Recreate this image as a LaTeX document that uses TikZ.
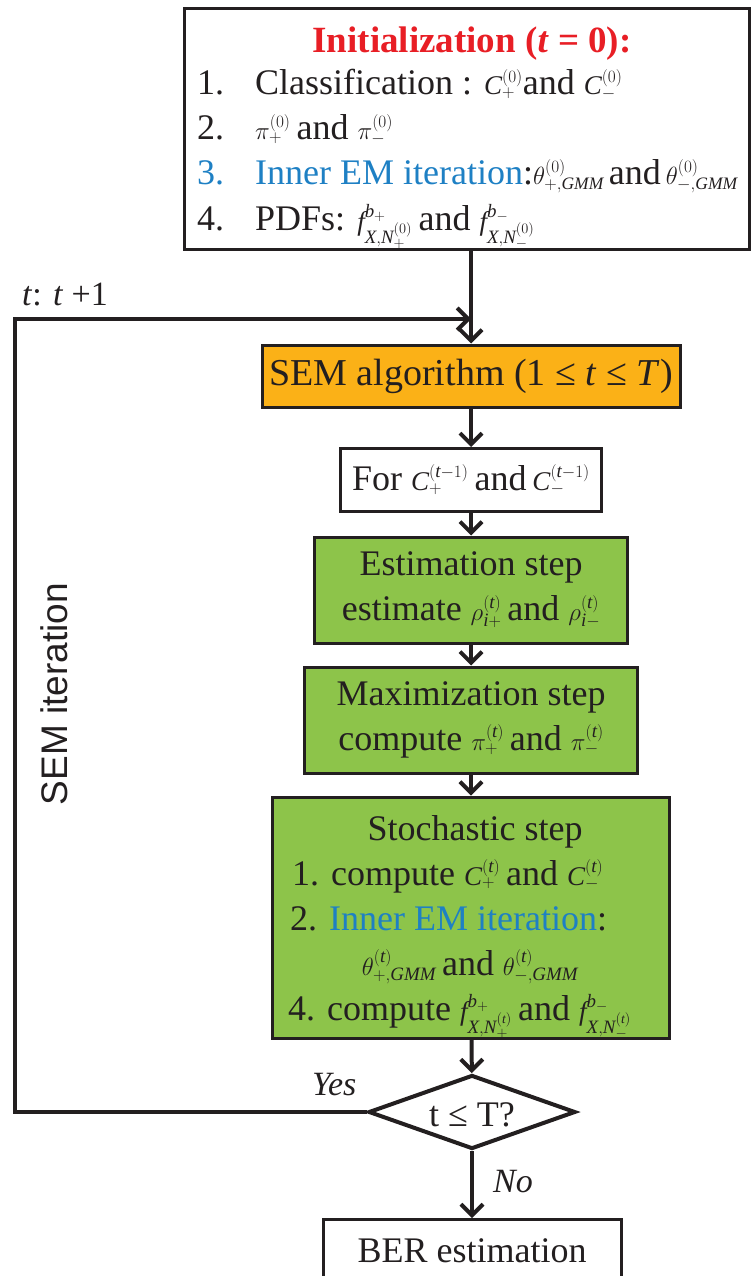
\documentclass[tikz,border=0pt]{standalone}
\usepackage{fontspec}
\setmainfont{Liberation Serif}
\setsansfont{Liberation Sans}
\usetikzlibrary{arrows.meta,shapes.geometric}
\definecolor{semorange}{RGB}{251,177,23}
\definecolor{stepgreen}{RGB}{141,196,74}
\definecolor{titlered}{RGB}{232,30,37}
\definecolor{itblue}{RGB}{30,128,196}
\definecolor{ink}{RGB}{35,31,32}
\newcommand\mm[1]{{\fontsize{27}{29}\selectfont$#1$}}
\newcommand\ms[1]{{\fontsize{25}{27}\selectfont$#1$}}
\newcommand\mi[1]{\mathit{#1}}
\begin{document}
\begin{tikzpicture}[x=1pt,y=1pt,
  box/.style={draw=ink, line width=3pt, inner sep=0pt},
  arr/.style={line width=4pt, draw=ink, -{Straight Barb[length=11pt,width=22pt]}},
  txt/.style={inner sep=0pt, anchor=base west, text=ink, font=\fontsize{36}{40}\selectfont},
  ctxt/.style={txt, anchor=base},
  two/.style={box, fill=stepgreen, align=center, text=ink, font=\fontsize{36}{45}\selectfont},
]
\useasboundingbox (0,0) rectangle (750,-1276);

% initialization box
\node[box, minimum width=565, minimum height=241, anchor=north west] (init) at (183,-7) {};
\node[ctxt, text=titlered, font=\fontsize{37}{40}\selectfont\bfseries] (title) at (472,-53) {Initialization (\textit{t} = 0):};
\node[txt] (n1) at (197,-95) {1.};
\node[txt] (l1) at (255,-95) {Classification : \mm{\mi{C}_+^{(0)}}and \mm{\mi{C}_-^{(0)}}};
\node[txt] (n2) at (197,-140) {2.};
\node[txt] (l2) at (255,-140) {\mm{\pi_+^{(0)}}\,and \mm{\pi_-^{(0)}}};
\node[txt, text=itblue] (n3) at (197,-185) {3.};
\node[txt] (l3) at (255,-185) {\textcolor{itblue}{Inner EM iteration}:\ms{\theta_{+,\mi{GMM}}^{(0)}}\hspace{5pt}and\hspace{5pt}\ms{\theta_{-,\mi{GMM}}^{(0)}}};
\node[txt] (n4) at (197,-230) {4.};
\node[txt] (l4) at (255,-230) {PDFs: \mm{\mi{f}^{\mi{b}_+}_{\mi{X},\mi{N}_+^{(0)}}}\,and \mm{\mi{f}^{\mi{b}_-}_{\mi{X},\mi{N}_-^{(0)}}}};

% SEM chain
\node[box, fill=semorange, minimum width=418, minimum height=62, text=ink, font=\fontsize{38}{40}\selectfont] (sem) at (471,-376) {SEM algorithm (1 ≤ \textit{t} ≤ \textit{T})};
\node[box, fill=white, minimum width=261, minimum height=63, text=ink, font=\fontsize{36}{40}\selectfont] (for) at (471,-480) {For \mm{\mi{C}_+^{(\mi{t}-1)}}\,and\,\mm{\mi{C}_-^{(\mi{t}-1)}}};
\node[two, minimum width=313, minimum height=106] (est) at (471,-590) {Estimation step\\estimate \mm{\rho_{\mi{i}+}^{(\mi{t})}}\,and \mm{\rho_{\mi{i}-}^{(\mi{t})}}};
\node[two, minimum width=333, minimum height=106] (max) at (471,-720) {Maximization step\\compute \mm{\pi_+^{(\mi{t})}}\,and \mm{\pi_-^{(\mi{t})}}};

% stochastic step
\node[box, fill=stepgreen, minimum width=397, minimum height=241] (sto) at (471,-917.5) {};
\node[ctxt] (s0) at (475,-840) {Stochastic step};
\node[txt] (s1) at (292,-885) {1. compute \mm{\mi{C}_+^{(\mi{t})}}\,and \mm{\mi{C}_-^{(\mi{t})}}};
\node[txt] (s2) at (290,-930) {2. \textcolor{itblue}{Inner EM iteration}:};
\node[ctxt] (s3) at (470,-975) {\mm{\theta_{+,\mi{GMM}}^{(\mi{t})}}\,and \mm{\theta_{-,\mi{GMM}}^{(\mi{t})}}};
\node[txt] (s4) at (288,-1020) {4. compute \mm{\mi{f}^{\mi{b}_+}_{\mi{X},\mi{N}_+^{(\mi{t})}}}\,and \mm{\mi{f}^{\mi{b}_-}_{\mi{X},\mi{N}_-^{(\mi{t})}}}};

% decision
\node[draw=ink, diamond, line width=4pt, minimum width=207, minimum height=74, inner sep=0pt, fill=white] (dia) at (472,-1112) {};
\node[ctxt] (diatxt) at (472,-1126) {t ≤ T?};

% BER box
\node[box, minimum width=298, minimum height=80, anchor=north] (ber) at (472,-1218) {};
\node[ctxt] (bertxt) at (472,-1262) {BER estimation};

% labels
\node[txt, font=\fontsize{34}{38}\selectfont] (tlab) at (22,-305) {\textit{t}: \textit{t} +1};
\node[txt, font=\fontsize{34}{38}\selectfont\itshape] (yes) at (312,-1095) {Yes};
\node[txt, font=\fontsize{34}{38}\selectfont\itshape] (no) at (493,-1192) {No};
\node[rotate=90, text=ink, font=\fontsize{37}{40}\selectfont\sffamily] (semit) at (54,-694) {SEM iteration};

% connectors
\coordinate (join) at (471,-319);
\coordinate (loopcorner) at (15,-319);
\draw[arr] (init.south -| sem.north) -- (sem.north);
\draw[arr] (dia.west) -| (loopcorner) -- (join);
\draw[arr] (sem) -- (for);
\draw[arr] (for) -- (est);
\draw[arr] (est) -- (max);
\draw[arr] (max) -- (sto);
\draw[arr] (sto) -- (dia);
\draw[arr] (dia) -- (ber);
\end{tikzpicture}
\end{document}
